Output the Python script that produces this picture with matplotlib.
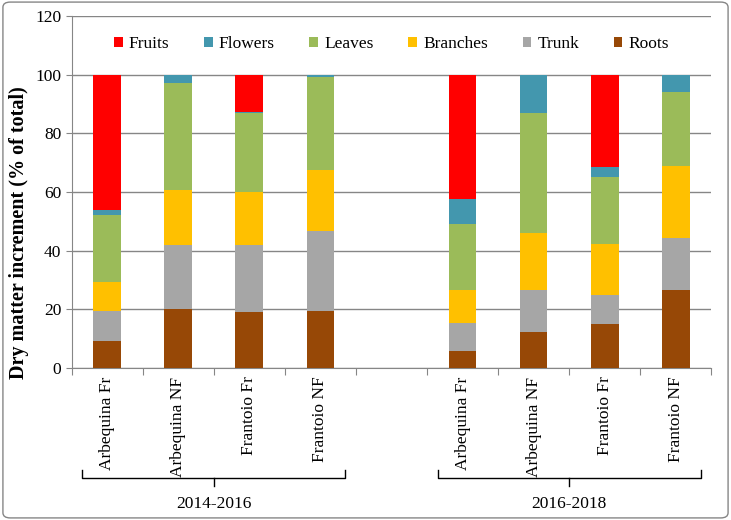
import matplotlib
matplotlib.use("Agg")
import matplotlib.pyplot as plt
from matplotlib.patches import FancyBboxPatch
import matplotlib.transforms as mtransforms
import numpy as np

# ---- data ----
labels = ["Arbequina Fr", "Arbequina NF", "Frantoio Fr", "Frantoio NF",
          "Arbequina Fr", "Arbequina NF", "Frantoio Fr", "Frantoio NF"]
periods = ["2014-2016", "2016-2018"]
roots    = [9.2, 20.1, 19.1, 19.4, 5.7, 12.4, 15.2, 26.6]
trunk    = [10.2, 21.8, 22.8, 27.5, 9.8, 14.4, 9.8, 17.8]
branches = [9.9, 18.8, 18.1, 20.8, 11.3, 19.3, 17.4, 24.5]
leaves   = [22.9, 36.6, 27.0, 31.6, 22.5, 40.9, 22.8, 25.3]
flowers  = [1.7, 2.7, 0.4, 0.7, 8.2, 13.0, 3.4, 5.8]
fruits   = [46.1, 0.0, 12.6, 0.0, 42.5, 0.0, 31.4, 0.0]

series_names = ["Roots", "Trunk", "Branches", "Leaves", "Flowers", "Fruits"]
series_vals = [roots, trunk, branches, leaves, flowers, fruits]
colors = {"Fruits": "#FF0000", "Flowers": "#4397AE", "Leaves": "#9BBB59",
          "Branches": "#FFC000", "Trunk": "#A6A6A6", "Roots": "#974806"}

plt.rcParams['font.family'] = ['Liberation Serif', 'DejaVu Serif']

fig = plt.figure(figsize=(7.31, 5.2), dpi=100)
ax = fig.add_axes([0.098, 0.292, 0.875, 0.677])

# positions: 4 bars, gap slot, 4 bars
pos = np.array([0, 1, 2, 3, 5, 6, 7, 8])
bottom = np.zeros(len(labels))
handles = {}
for name, vals in zip(series_names, series_vals):
    vals = np.array(vals)
    b = ax.bar(pos, vals, width=0.39, bottom=bottom, color=colors[name],
               edgecolor='none', label=name, zorder=3)
    handles[name] = b
    bottom += vals

ax.set_ylim(0, 120)
ax.set_xlim(-0.5, 8.5)
ax.set_yticks(np.arange(0, 121, 20))
ax.tick_params(axis='y', labelsize=12.5, length=4, color='#868686')
ax.yaxis.grid(True, color='#868686', linewidth=1.0, zorder=0)
ax.set_axisbelow(True)

ax.set_xticks(np.arange(-0.5, 9, 1))
ax.set_xticklabels([])
ax.tick_params(axis='x', which='major', length=5, color='#868686')
ax.set_xticks(pos, minor=True)
ax.set_xticklabels(labels, minor=True, rotation=90, fontsize=12.5)
ax.tick_params(axis='x', which='minor', length=0, pad=6)

for s in ['top', 'right']:
    ax.spines[s].set_visible(False)
for s in ['left', 'bottom']:
    ax.spines[s].set_color('#868686')

ax.set_ylabel("Dry matter increment (% of total)", fontsize=14.5,
              fontweight='bold')
ax.yaxis.set_label_coords(-0.066, 0.385)

order = ["Fruits", "Flowers", "Leaves", "Branches", "Trunk", "Roots"]
ax.legend([handles[n] for n in order], order, loc='center',
          bbox_to_anchor=(0.5, 0.92), ncol=6, frameon=False, fontsize=12.5,
          handlelength=0.5, handleheight=0.5, handletextpad=0.35,
          columnspacing=2.0)

# brackets
trans = mtransforms.blended_transform_factory(ax.transData, ax.transAxes)
groups = [pos[:4], pos[4:]]
for per, g in zip(periods, groups):
    x0, x1 = g.min() - 0.35, g.max() + 0.35
    xc = (g.min() + g.max()) / 2
    yb, ye, yt = -0.312, -0.29, -0.335
    ax.plot([x0, x0, x1, x1], [ye, yb, yb, ye], color='black', lw=1.0,
            transform=trans, clip_on=False)
    ax.plot([xc, xc], [yb, yt], color='black', lw=1.0, transform=trans,
            clip_on=False)
    ax.text(xc, -0.385, per, transform=trans, ha='center', va='center',
            fontsize=12.5)

# outer frame
frame = FancyBboxPatch((0.004, 0.004), 0.992, 0.992,
                       boxstyle="round,pad=0,rounding_size=0.01",
                       transform=fig.transFigure, facecolor='none',
                       edgecolor='#868686', linewidth=1.0)
fig.patches.append(frame)

fig.savefig("out.png", dpi=100)
